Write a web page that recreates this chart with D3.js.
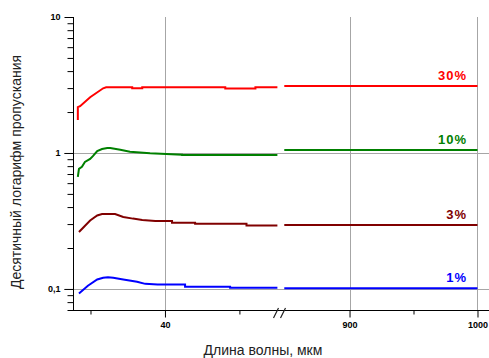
<!DOCTYPE html>
<html>
<head>
<meta charset="utf-8">
<script src="https://cdn.jsdelivr.net/npm/d3@7"></script>
<style>
  body { margin: 0; background: #fff; }
  svg { display: block; font-family: 'Liberation Sans', Arial, sans-serif; }
</style>
</head>
<body>
<div id="chart"></div>
<script>
'use strict';

// wavelength (µm) -> decimal log of transmission; points above 500 belong to the right part of the broken axis
const series30 = [[16.6, 1.75], [16.6, 2.17], [17.2, 2.21], [19.9, 2.57], [23.4, 2.99], [24.2, 3.04], [31.2, 3.04], [31.2, 2.99],
  [33.9, 2.99], [33.9, 3.04], [56.2, 3.04], [56.2, 2.98], [64.3, 2.98], [64.3, 3.04], [70.2, 3.04], [849, 3.11], [1000, 3.11]];
const series10 = [[16.6, 0.667], [16.9, 0.764], [17.7, 0.79], [18.5, 0.859], [19.9, 0.904], [20.7, 0.951], [21.8, 1.034],
  [23.1, 1.07], [24.5, 1.088], [25.3, 1.088], [28.0, 1.057], [30.6, 1.022], [36.0, 0.995], [44.6, 0.972], [44.6, 0.967],
  [70.2, 0.967], [849, 1.05], [1000, 1.05]];
const series3 = [[16.9, 0.262], [19.9, 0.319], [21.8, 0.347], [23.1, 0.355], [26.6, 0.355], [28.8, 0.338], [31.4, 0.329],
  [33.9, 0.322], [37.4, 0.316], [41.9, 0.316], [41.9, 0.307], [48.1, 0.307], [48.1, 0.302], [61.9, 0.302], [61.9, 0.293],
  [70.2, 0.293], [849, 0.295], [1000, 0.295]];
const series1 = [[16.9, 0.0927], [19.3, 0.1055], [21.8, 0.1174], [23.4, 0.1209], [24.7, 0.1221], [26.1, 0.1209],
  [28.8, 0.1174], [32.5, 0.1131], [34.7, 0.109], [38.0, 0.1079], [45.4, 0.1079], [45.4, 0.1038], [57.5, 0.1038],
  [57.5, 0.1021], [70.2, 0.1021], [849, 0.101], [1000, 0.101]];

const seriesNames = ['30%', '10%', '3%', '1%'];
const seriesColors = ['#ff0000', '#008000', '#800000', '#0000ff'];
const seriesData = [series30, series10, series3, series1];

const xTicksLeft = [40];
const xMinorLeft = [20, 60];
const xTicksRight = [900, 1000];
const xMinorRight = [950];
const yTicks = [0.1, 1, 10];
const yMinor = [0.07, 0.08, 0.09, 0.2, 0.3, 0.4, 0.5, 0.6, 0.7, 0.8, 0.9, 2, 3, 4, 5, 6, 7, 8, 9];
const yGrid = [0.1, 1];
const xGrid = [40, 900, 1000];

const width = 489;
const height = 358;
const axis_y = 310;
const axis_x = 73;

const svg = d3.select('#chart').append('svg')
  .attr('width', width)
  .attr('height', height);

const y = d3.scaleLog().domain([0.07, 10]).range([axis_y, 17]);
const xl = d3.scaleLinear().domain([15.3, 70.9]).range([axis_x, 280]);
const xr = d3.scaleLinear().domain([848, 1009]).range([283, 489]);
const xs = w => (w > 500 ? xr(w) : xl(w));

const ru = d3.formatLocale({ decimal: ',', thousands: '', grouping: [3], currency: ['', ''] });
const yFormat = ru.format('~g');
const xFormat = d3.format('d');

// GRID
svg.append('g')
  .selectAll('line')
  .data(yGrid)
  .join('line')
  .attr('x1', axis_x - 9)
  .attr('x2', width)
  .attr('y1', d => Math.round(y(d)) + 0.5)
  .attr('y2', d => Math.round(y(d)) + 0.5)
  .attr('stroke', '#a6a6a6');

svg.append('g')
  .selectAll('line')
  .data(xGrid)
  .join('line')
  .attr('x1', d => Math.round(xs(d)) + 0.5)
  .attr('x2', d => Math.round(xs(d)) + 0.5)
  .attr('y1', y(10))
  .attr('y2', axis_y)
  .attr('stroke', '#a6a6a6');

// AXES
const styleAxis = g => {
  g.select('.domain').remove();
  g.selectAll('.tick line').attr('stroke', '#000');
  g.selectAll('.tick text')
    .attr('fill', '#000')
    .attr('font-size', 9)
    .attr('font-weight', 'bold')
    .attr('font-family', "'Liberation Sans', Arial, sans-serif");
};

svg.append('g')
  .attr('transform', `translate(${axis_x + 0.5},0)`)
  .call(d3.axisLeft(y).tickValues(yTicks).tickSize(9).tickPadding(4).tickFormat(yFormat))
  .call(styleAxis);

svg.append('g')
  .attr('transform', `translate(${axis_x + 0.5},0)`)
  .call(d3.axisLeft(y).tickValues(yMinor).tickSize(6).tickFormat(''))
  .call(styleAxis);

svg.append('g')
  .attr('transform', `translate(0,${axis_y + 0.5})`)
  .call(d3.axisBottom(xl).tickValues(xTicksLeft).tickSize(7).tickPadding(4).tickFormat(xFormat))
  .call(styleAxis);
svg.append('g')
  .attr('transform', `translate(0,${axis_y + 0.5})`)
  .call(d3.axisBottom(xl).tickValues(xMinorLeft).tickSize(4).tickFormat(''))
  .call(styleAxis);
svg.append('g')
  .attr('transform', `translate(0,${axis_y + 0.5})`)
  .call(d3.axisBottom(xr).tickValues(xTicksRight).tickSize(7).tickPadding(4).tickFormat(xFormat))
  .call(styleAxis);
svg.append('g')
  .attr('transform', `translate(0,${axis_y + 0.5})`)
  .call(d3.axisBottom(xr).tickValues(xMinorRight).tickSize(4).tickFormat(''))
  .call(styleAxis);

// axis lines
svg.append('line')
  .attr('x1', axis_x + 0.5).attr('x2', axis_x + 0.5)
  .attr('y1', y(10)).attr('y2', axis_y + 1)
  .attr('stroke', '#000');
svg.append('line')
  .attr('x1', axis_x).attr('x2', width)
  .attr('y1', axis_y + 0.5).attr('y2', axis_y + 0.5)
  .attr('stroke', '#000');

// break mark on x axis
const brk = (xl.range()[1] + xr.range()[0]) / 2;
svg.append('path')
  .attr('d', `M ${brk - 8},${axis_y + 8} L ${brk - 3},${axis_y - 2} M ${brk - 1},${axis_y + 8} L ${brk + 4},${axis_y - 2}`)
  .attr('stroke', '#222')
  .attr('stroke-width', 1.2)
  .attr('fill', 'none');

// LINES
const line = d3.line()
  .x(d => xs(d[0]))
  .y(d => y(d[1]));

seriesData.forEach((data, i) => {
  const parts = [data.filter(d => d[0] < 500), data.filter(d => d[0] > 500)];
  svg.append('g')
    .selectAll('path')
    .data(parts)
    .join('path')
    .attr('d', line)
    .attr('fill', 'none')
    .attr('stroke', seriesColors[i])
    .attr('stroke-width', 2);

  const last = data[data.length - 1];
  svg.append('text')
    .attr('x', 467)
    .attr('y', y(last[1]) - 6)
    .attr('text-anchor', 'end')
    .attr('font-size', 13)
    .attr('font-weight', 'bold')
    .attr('letter-spacing', 1)
    .attr('fill', seriesColors[i])
    .text(seriesNames[i]);
});

// TITLES
svg.append('text')
  .attr('x', 263)
  .attr('y', 355)
  .attr('text-anchor', 'middle')
  .attr('font-size', 14)
  .attr('fill', '#222')
  .text('Длина волны, мкм');

svg.append('text')
  .attr('transform', 'translate(21,172) rotate(-90)')
  .attr('text-anchor', 'middle')
  .attr('font-size', 14)
  .attr('fill', '#222')
  .text('Десятичный логарифм пропускания');
</script>
</body>
</html>
